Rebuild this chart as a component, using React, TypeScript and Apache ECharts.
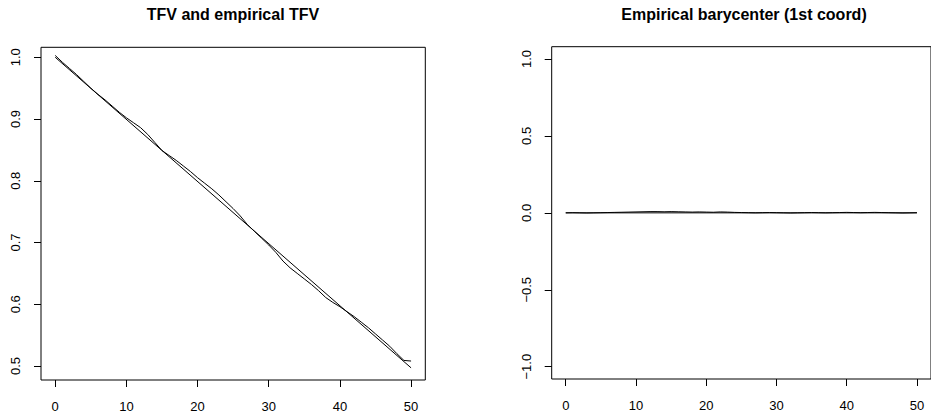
import React, { useEffect, useRef } from "react";
import * as echarts from "echarts";

const tfvTitle = "TFV and empirical TFV";
const baryTitle = "Empirical barycenter (1st coord)";

const xTicks = [0, 10, 20, 30, 40, 50];
const tfvTicks = [0.5, 0.6, 0.7, 0.8, 0.9, 1.0];
const baryTicks = [-1.0, -0.5, 0.0, 0.5, 1.0];

const tfvTheoryX = [0, 50];
const tfvTheoryY = [1.0, 0.497];

const steps = [
  0, 1, 2, 3, 4, 5, 6, 7, 8, 9, 10, 11, 12, 13, 14, 15, 16, 17, 18, 19, 20,
  21, 22, 23, 24, 25, 26, 27, 28, 29, 30, 31, 32, 33, 34, 35, 36, 37, 38, 39,
  40, 41, 42, 43, 44, 45, 46, 47, 48, 49, 50,
];

const tfvEmpirical = [
  1.003, 0.992, 0.982, 0.972, 0.961, 0.95, 0.94, 0.931, 0.921, 0.911, 0.902,
  0.894, 0.886, 0.875, 0.862, 0.849, 0.841, 0.833, 0.824, 0.815, 0.805, 0.796,
  0.787, 0.777, 0.766, 0.755, 0.743, 0.729, 0.718, 0.707, 0.696, 0.684, 0.67,
  0.659, 0.65, 0.641, 0.632, 0.622, 0.611, 0.603, 0.596, 0.588, 0.58, 0.571,
  0.562, 0.552, 0.542, 0.532, 0.52, 0.509, 0.508,
];

const baryZeroX = [0, 50];
const baryZeroY = [0, 0];

const baryEmpirical = [
  0, 0.001, 0.0, -0.001, 0.0, 0.001, 0.002, 0.003, 0.004, 0.005, 0.006, 0.007,
  0.008, 0.008, 0.007, 0.008, 0.007, 0.006, 0.005, 0.006, 0.005, 0.004, 0.006,
  0.005, 0.003, 0.002, 0.001, 0.0, 0.001, 0.002, 0.001, 0.0, -0.001, 0.0, 0.001,
  0.002, 0.001, 0.0, 0.001, 0.002, 0.003, 0.002, 0.001, 0.002, 0.003, 0.002,
  0.001, 0.0, -0.001, 0.0, 0.001,
];

const FONT = '"Liberation Sans", Arial, Helvetica, sans-serif';

const fmt = (v: number) => v.toFixed(1).replace("-", "\u2212");

function xAxisFor(gridIndex: number) {
  return {
    type: "value",
    gridIndex,
    min: -2,
    max: 52,
    axisLine: { show: false, onZero: false },
    splitLine: { show: false },
    axisTick: {
      show: true,
      length: 7,
      inside: false,
      customValues: xTicks,
      lineStyle: { color: "#000", width: 1 },
    },
    axisLabel: {
      show: true,
      customValues: xTicks,
      margin: 20,
      color: "#000",
      fontSize: 13,
      fontFamily: FONT,
      formatter: (v: number) => String(v),
    },
  };
}

function yAxisFor(gridIndex: number, min: number, max: number, ticks: number[]) {
  return {
    type: "value",
    gridIndex,
    min,
    max,
    axisLine: { show: false, onZero: false },
    splitLine: { show: false },
    axisTick: {
      show: true,
      length: 7,
      inside: false,
      customValues: ticks,
      lineStyle: { color: "#000", width: 1 },
    },
    axisLabel: {
      show: true,
      customValues: ticks,
      rotate: 90,
      margin: 19,
      color: "#000",
      fontSize: 13,
      fontFamily: FONT,
      formatter: (v: number) => fmt(v),
    },
  };
}

export default function App() {
  const ref = useRef<HTMLDivElement>(null);

  useEffect(() => {
    if (!ref.current) return;
    const chart = echarts.init(ref.current, undefined, { renderer: "svg" });
    const lineStyle = { color: "#000", width: 1 };
    chart.setOption({
      animation: false,
      backgroundColor: "#fff",
      graphic: [
        {
          type: "text",
          x: 233,
          y: 14,
          style: {
            text: tfvTitle,
            align: "center",
            verticalAlign: "middle",
            font: `bold 16px ${FONT}`,
            fill: "#000",
          },
        },
        {
          type: "text",
          x: 744,
          y: 14,
          style: {
            text: baryTitle,
            align: "center",
            verticalAlign: "middle",
            font: `bold 16px ${FONT}`,
            fill: "#000",
          },
        },
      ],
      grid: [
        {
          left: 41,
          top: 47.3,
          width: 384.3,
          height: 332.7,
          show: true,
          borderColor: "#000",
          borderWidth: 1,
          backgroundColor: "transparent",
        },
        {
          left: 551.7,
          top: 46.7,
          width: 384.3,
          height: 332.3,
          show: true,
          borderColor: "#000",
          borderWidth: 1,
          backgroundColor: "transparent",
        },
      ],
      xAxis: [xAxisFor(0), xAxisFor(1)],
      yAxis: [
        yAxisFor(0, 0.4773, 1.0162, tfvTicks),
        yAxisFor(1, -1.08, 1.08, baryTicks),
      ],
      series: [
        {
          type: "line",
          xAxisIndex: 0,
          yAxisIndex: 0,
          data: tfvTheoryX.map((x, i) => [x, tfvTheoryY[i]]),
          showSymbol: false,
          symbol: "none",
          lineStyle,
        },
        {
          type: "line",
          xAxisIndex: 0,
          yAxisIndex: 0,
          data: steps.map((x, i) => [x, tfvEmpirical[i]]),
          showSymbol: false,
          symbol: "none",
          lineStyle,
        },
        {
          type: "line",
          xAxisIndex: 1,
          yAxisIndex: 1,
          data: baryZeroX.map((x, i) => [x, baryZeroY[i]]),
          showSymbol: false,
          symbol: "none",
          lineStyle,
        },
        {
          type: "line",
          xAxisIndex: 1,
          yAxisIndex: 1,
          data: steps.map((x, i) => [x, baryEmpirical[i]]),
          showSymbol: false,
          symbol: "none",
          lineStyle,
        },
      ],
    });
    return () => chart.dispose();
  }, []);

  return (
    <div
      ref={ref}
      style={{ position: "absolute", left: 0, top: 0, width: 931, height: 420 }}
    />
  );
}
